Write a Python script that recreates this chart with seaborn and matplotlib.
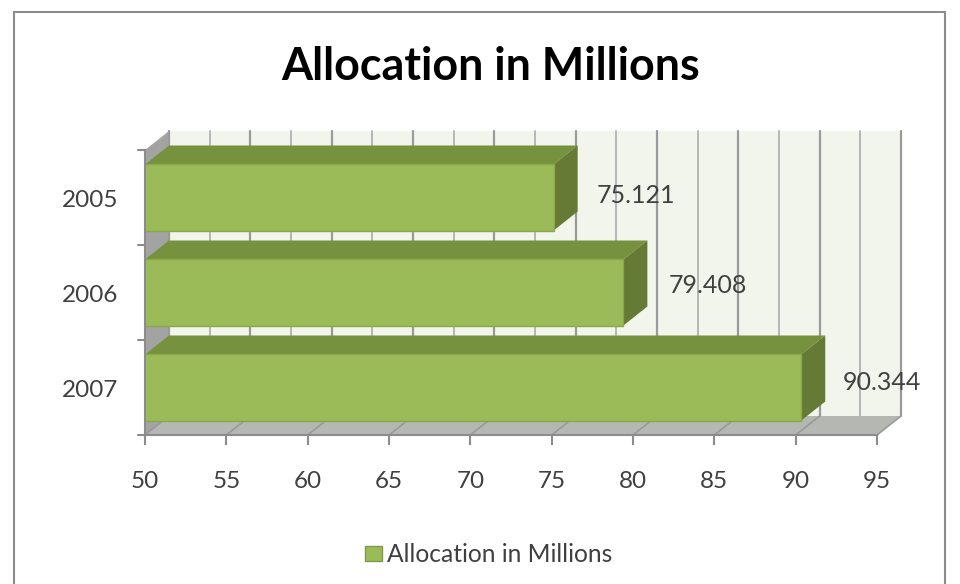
import matplotlib
matplotlib.use("Agg")
import matplotlib.pyplot as plt
from matplotlib.patches import Polygon, Rectangle
from matplotlib.transforms import ScaledTranslation
import pandas as pd
import seaborn as sns

# dati
years = ["2005", "2006", "2007"]
allocation = [75.121, 79.408, 90.344]
x_ticks = [50, 55, 60, 65, 70, 75, 80, 85, 90, 95]
x_minor = [52.5, 57.5, 62.5, 67.5, 72.5, 77.5, 82.5, 87.5, 92.5]
series_name = "Allocation in Millions"

sns.set_theme(style="white")
plt.rcParams["font.family"] = ["Lato", "DejaVu Sans"]

df = pd.DataFrame({"year": years, "value": allocation})

W, H = 960, 584
fig = plt.figure(figsize=(W / 100, H / 100), dpi=100)
ax = fig.add_axes([145 / W, 1 - 435 / H, 732 / W, 285 / H])

# profondita' dell'effetto 3D, in unita' degli assi
xmin, xmax = x_ticks[0], x_ticks[-1]
DX = 24 * (xmax - xmin) / 732
DY = 19 / 95
BAR_H = 0.695
y_top, y_bot = -0.5, 2.5

FRONT = "#9bbb59"
TOP = "#77923f"
SIDE = "#647a35"
GRID = "#9a9a9a"
GRID_MINOR = "#b6b6b6"
TEXT = "#404040"

# scostamento delle etichette rispetto alla barra
label_dx = [5.08, 5.17, 4.99]
label_dy = [-0.02, -0.07, -0.05]


def face(pts, color, z, lw=0, ec=None):
    ax.add_patch(Polygon(pts, closed=True, fc=color, ec=ec or color, lw=lw, zorder=z, clip_on=False))


sns.barplot(data=df, y="year", x="value", orient="h", ax=ax, color=FRONT, saturation=1,
            width=BAR_H, left=0, zorder=5, edgecolor="#8aa84a", linewidth=1)
ax.set_xlim(xmin, xmax)
ax.set_ylim(y_bot, y_top)

# pareti e pavimento
face([(xmin + DX, y_top - DY), (xmax + DX, y_top - DY), (xmax + DX, y_bot - DY), (xmin + DX, y_bot - DY)], "#f2f5ec", 1)
face([(xmin, y_top), (xmin + DX, y_top - DY), (xmin + DX, y_bot - DY), (xmin, y_bot)], "#a3a3a3", 1.5)
face([(xmin, y_bot), (xmin + DX, y_bot - DY), (xmax + DX, y_bot - DY), (xmax, y_bot)], "#b5b7b3", 1.5)

for t in x_minor:
    ax.plot([t + DX, t + DX], [y_top - DY, y_bot - DY], color=GRID_MINOR, lw=1.4, zorder=2, clip_on=False)
for t in x_ticks:
    ax.plot([t + DX, t + DX], [y_top - DY, y_bot - DY], color=GRID, lw=1.6, zorder=2, clip_on=False)
    ax.plot([t, t + DX], [y_bot, y_bot - DY], color=GRID, lw=1.2, zorder=2, clip_on=False)

# facce superiori e laterali delle barre
for i, v in enumerate(allocation):
    a, b = i - BAR_H / 2, i + BAR_H / 2
    face([(xmin, a), (xmin + DX, a - DY), (v + DX, a - DY), (v, a)], TOP, 4)
    face([(v, a), (v + DX, a - DY), (v + DX, b - DY), (v, b)], SIDE, 4)
    ax.text(v + label_dx[i], i + label_dy[i], f"{v:.3f}", ha="center", va="center", fontsize=18, color=TEXT, zorder=8)

# assi
for s in ["top", "right"]:
    ax.spines[s].set_visible(False)
for s in ["left", "bottom"]:
    ax.spines[s].set_color("#8c8c8c")
    ax.spines[s].set_linewidth(1.5)
    ax.spines[s].set_zorder(6)
ax.set_xticks(x_ticks)
ax.tick_params(axis="x", bottom=True, length=7, width=1.5, color="#8c8c8c", pad=19, labelsize=17.5, labelcolor=TEXT)
ax.set_yticks(range(len(years)))
ax.tick_params(axis="y", left=False, pad=13, labelsize=17.5, labelcolor=TEXT)
for lab in ax.get_yticklabels():
    lab.set_transform(lab.get_transform() + ScaledTranslation(0, -1 / 100, fig.dpi_scale_trans))
for yy in [-0.5, 0.5, 1.5, 2.5]:
    ax.plot([xmin - 7 * (xmax - xmin) / 732, xmin], [yy, yy], color="#8c8c8c", lw=1.5, clip_on=False, zorder=6)
ax.set_xlabel("")
ax.set_ylabel("")

fig.text(491 / W, 1 - 67 / H, series_name, ha="center", va="center", fontsize=32.3, fontweight="bold", color="black")

# legenda
fig.patches.append(Rectangle((365 / W, 1 - 561 / H), 17 / W, 15 / H, transform=fig.transFigure,
                             fc=FRONT, ec="#7f9a48", lw=1))
fig.text(387 / W, 1 - 555 / H, series_name, ha="left", va="center", fontsize=17.7, color=TEXT)

# bordo del grafico
fig.patches.append(Rectangle((14 / W, -0.02), 931 / W, 1.02 - 12 / H, transform=fig.transFigure,
                             fc="none", ec="#8c8c8c", lw=1.5))

fig.savefig("out.png", dpi=100)
